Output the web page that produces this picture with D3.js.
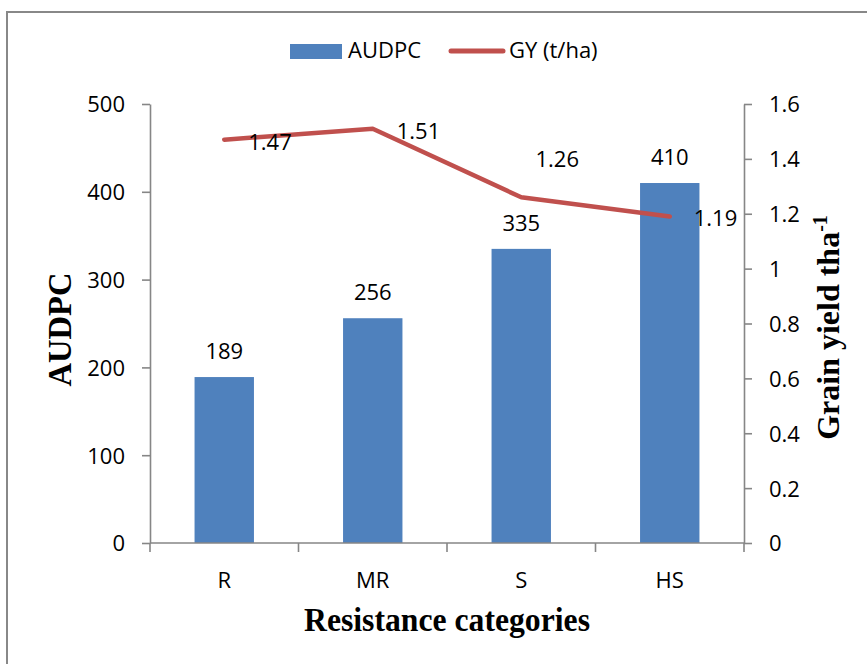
<!DOCTYPE html>
<html>
<head>
<meta charset="utf-8">
<script src="https://cdn.jsdelivr.net/npm/d3@7"></script>
<style>
  html, body { margin: 0; padding: 0; background: #fff; }
  svg { display: block; }
</style>
</head>
<body>
<svg id="chart" width="867" height="664"></svg>
<script>
const categories = ["R", "MR", "S", "HS"];
const audpc = [189, 256, 335, 410];
const gy = [1.47, 1.51, 1.26, 1.19];
const leftTicks = [0, 100, 200, 300, 400, 500];
const rightTicks = [0, 0.2, 0.4, 0.6, 0.8, 1, 1.2, 1.4, 1.6];
const gyLabelPos = ["right", "right", "above", "right"];

const svg = d3.select("#chart");
const W = 867, H = 664;
const m = { left: 150, right: 744, top: 104, bottom: 543 };
const tickFont = "'Open Sans', 'Noto Sans', sans-serif";
const titleFont = "'Liberation Serif', 'DejaVu Serif', serif";
const axisColor = "#868686";

// outer frame (right/bottom edges fall outside the picture)
svg.append("rect")
  .attr("x", 7).attr("y", 12).attr("width", 900).attr("height", 700)
  .attr("fill", "none").attr("stroke", "#888").attr("stroke-width", 2);

const x = d3.scaleBand().domain(categories).range([m.left, m.right])
  .paddingInner(0.6).paddingOuter(0.3);
const xb = d3.scaleBand().domain(categories).range([m.left, m.right]);
const yL = d3.scaleLinear().domain([0, 500]).range([m.bottom, m.top]);
const yR = d3.scaleLinear().domain([0, 1.6]).range([m.bottom, m.top]);

// bars
svg.append("g").selectAll("rect").data(audpc).join("rect")
  .attr("x", (d, i) => x(categories[i]))
  .attr("y", d => yL(d))
  .attr("width", x.bandwidth())
  .attr("height", d => yL(0) - yL(d))
  .attr("fill", "#4F81BD");

// axes
function styleAxis(g) {
  g.selectAll("path, line").attr("stroke", axisColor).attr("stroke-width", 1.6);
  g.selectAll("text").attr("font-family", tickFont).attr("font-size", 22).attr("fill", "#000");
}
const gL = svg.append("g").attr("transform", `translate(${m.left},0)`)
  .call(d3.axisLeft(yL).tickValues(leftTicks).tickSize(8).tickSizeOuter(0).tickPadding(17).tickFormat(d3.format("d")));
styleAxis(gL);
gL.selectAll("text").attr("dy", "0.36em");

const gR = svg.append("g").attr("transform", `translate(${m.right},0)`)
  .call(d3.axisRight(yR).tickValues(rightTicks).tickSize(8).tickSizeOuter(0).tickPadding(17).tickFormat(d => d3.format("")(+d.toFixed(1))));
styleAxis(gR);
gR.selectAll("text").attr("dy", "0.36em");

// bottom axis: line with ticks at category boundaries
const gB = svg.append("g");
gB.append("line").attr("x1", m.left).attr("x2", m.right).attr("y1", m.bottom).attr("y2", m.bottom)
  .attr("stroke", axisColor).attr("stroke-width", 1.6);
const bounds = categories.map(c => xb(c)).concat([xb(categories[categories.length - 1]) + xb.bandwidth()]);
gB.selectAll("line.tk").data(bounds).join("line").attr("class", "tk")
  .attr("x1", d => d).attr("x2", d => d).attr("y1", m.bottom).attr("y2", m.bottom + 9)
  .attr("stroke", axisColor).attr("stroke-width", 1.6);
gB.selectAll("text").data(categories).join("text")
  .attr("x", d => xb(d) + xb.bandwidth() / 2).attr("y", 588)
  .attr("text-anchor", "middle").attr("font-family", tickFont).attr("font-size", 22)
  .text(d => d);

// line
const cx = i => x(categories[i]) + x.bandwidth() / 2;
svg.append("path").datum(gy)
  .attr("d", d3.line().x((d, i) => cx(i)).y(d => yR(d)))
  .attr("fill", "none").attr("stroke", "#C0504D").attr("stroke-width", 4.5)
  .attr("stroke-linecap", "round").attr("stroke-linejoin", "round");

// bar labels
svg.append("g").selectAll("text").data(audpc).join("text")
  .attr("x", (d, i) => cx(i)).attr("y", d => yL(d) - 18)
  .attr("text-anchor", "middle").attr("font-family", tickFont).attr("font-size", 22)
  .text(d => d);

// line labels
svg.append("g").selectAll("text").data(gy).join("text")
  .attr("x", (d, i) => gyLabelPos[i] === "right" ? cx(i) + 24 : cx(i) + 36)
  .attr("y", (d, i) => gyLabelPos[i] === "right" ? yR(d) + 10 : yR(d) - 30)
  .attr("text-anchor", (d, i) => gyLabelPos[i] === "right" ? "start" : "middle")
  .attr("font-family", tickFont).attr("font-size", 22)
  .text(d => d3.format(".2f")(d));

// axis titles
svg.append("text")
  .attr("transform", `translate(71,${(m.top + m.bottom) / 2 + 6}) rotate(-90)`)
  .attr("text-anchor", "middle").attr("font-family", titleFont).attr("font-weight", "bold")
  .attr("font-size", 34).attr("textLength", 114).attr("lengthAdjust", "spacingAndGlyphs")
  .text("AUDPC");

const rt = svg.append("text")
  .attr("transform", `translate(839,${(m.top + m.bottom) / 2 + 4}) rotate(-90)`)
  .attr("text-anchor", "middle").attr("font-family", titleFont).attr("font-weight", "bold")
  .attr("font-size", 32);
rt.append("tspan").text("Grain yield tha");
rt.append("tspan").attr("dy", -12).attr("font-size", 20).text("-1");

svg.append("text")
  .attr("x", 447).attr("y", 631)
  .attr("text-anchor", "middle").attr("font-family", titleFont).attr("font-weight", "bold")
  .attr("font-size", 34).attr("textLength", 286).attr("lengthAdjust", "spacingAndGlyphs")
  .text("Resistance categories");

// legend
const lg = svg.append("g");
lg.append("rect").attr("x", 290).attr("y", 44).attr("width", 52).attr("height", 15).attr("fill", "#4F81BD");
lg.append("text").attr("x", 348).attr("y", 58).attr("font-family", tickFont).attr("font-size", 22).text("AUDPC");
lg.append("line").attr("x1", 451).attr("x2", 503).attr("y1", 51).attr("y2", 51)
  .attr("stroke", "#C0504D").attr("stroke-width", 5).attr("stroke-linecap", "round");
lg.append("text").attr("x", 509).attr("y", 58).attr("font-family", tickFont).attr("font-size", 22).text("GY (t/ha)");
</script>
</body>
</html>
